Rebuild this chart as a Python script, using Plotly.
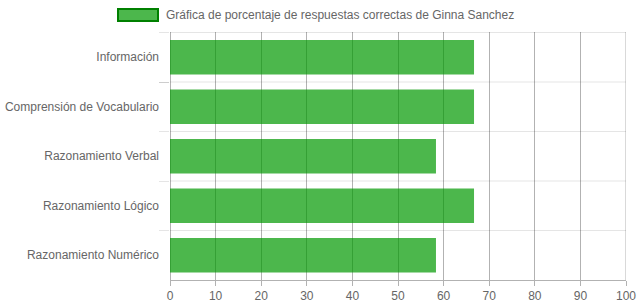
import plotly.graph_objects as go

categories = ["Información", "Comprensión de Vocabulario", "Razonamiento Verbal",
              "Razonamiento Lógico", "Razonamiento Numérico"]
values = [66.67, 66.67, 58.33, 66.67, 58.33]
series_name = "Gráfica de porcentaje de respuestas correctas de Ginna Sanchez"
x_ticks = [0, 10, 20, 30, 40, 50, 60, 70, 80, 90, 100]

W, H = 639, 308
L, R, T, B = 170, 13, 32, 28
pw, ph = W - L - R, H - T - B

def px_x(p):
    return (p - L) / pw

def px_y(p):
    return (H - B - p) / ph

fig = go.Figure()
fig.add_trace(go.Bar(
    y=categories, x=values, orientation="h", name=series_name,
    marker=dict(color="rgba(0,153,0,0.7)", line=dict(width=0)),
    showlegend=False,
))

font = dict(family="Liberation Sans, Arial, sans-serif", size=12, color="#666666")

light = "rgba(0,0,0,0.1)"
dark = "rgba(0,0,0,0.3)"

shapes = [
    dict(type="line", xref="x", yref="paper", x0=100, x1=100, y0=0, y1=1,
         line=dict(color=dark, width=1)),
    dict(type="rect", xref="paper", yref="paper",
         x0=px_x(118), x1=px_x(158), y0=px_y(21), y1=px_y(9),
         fillcolor="rgba(0,153,0,0.7)", line=dict(color="rgb(0,128,0)", width=2)),
]
# horizontal category boundary gridlines
for i in range(len(categories)):
    shapes.append(dict(type="line", xref="paper", yref="y", layer="below",
                       x0=0, x1=1, y0=i - 0.5, y1=i - 0.5,
                       line=dict(color=light, width=1)))

fig.update_layout(
    width=W, height=H,
    margin=dict(l=L, r=R, t=T, b=B, pad=0, autoexpand=False),
    paper_bgcolor="white", plot_bgcolor="white",
    bargap=0.3,
    font=font,
    xaxis=dict(
        range=[0, 100], tickvals=x_ticks, showgrid=True, automargin=False,
        gridcolor=dark, gridwidth=1,
        zeroline=True, zerolinecolor=dark, zerolinewidth=1,
        showline=True, linecolor=dark, linewidth=1, mirror=False,
        ticks="outside", ticklen=5, tickcolor=dark,
        tickfont=font, fixedrange=True,
    ),
    yaxis=dict(
        type="category", categoryorder="array", categoryarray=categories,
        autorange="reversed", tickson="boundaries", automargin=False,
        showgrid=False,
        ticks="outside", ticklen=10, tickcolor=light,
        showline=False, zeroline=False, tickfont=font, ticklabelstandoff=10,
    ),
    shapes=shapes,
    annotations=[
        dict(text=series_name, xref="paper", yref="paper",
             x=px_x(164), y=px_y(15), xanchor="left", yanchor="middle",
             showarrow=False, font=font),
    ],
)

fig.write_html("out.html")
